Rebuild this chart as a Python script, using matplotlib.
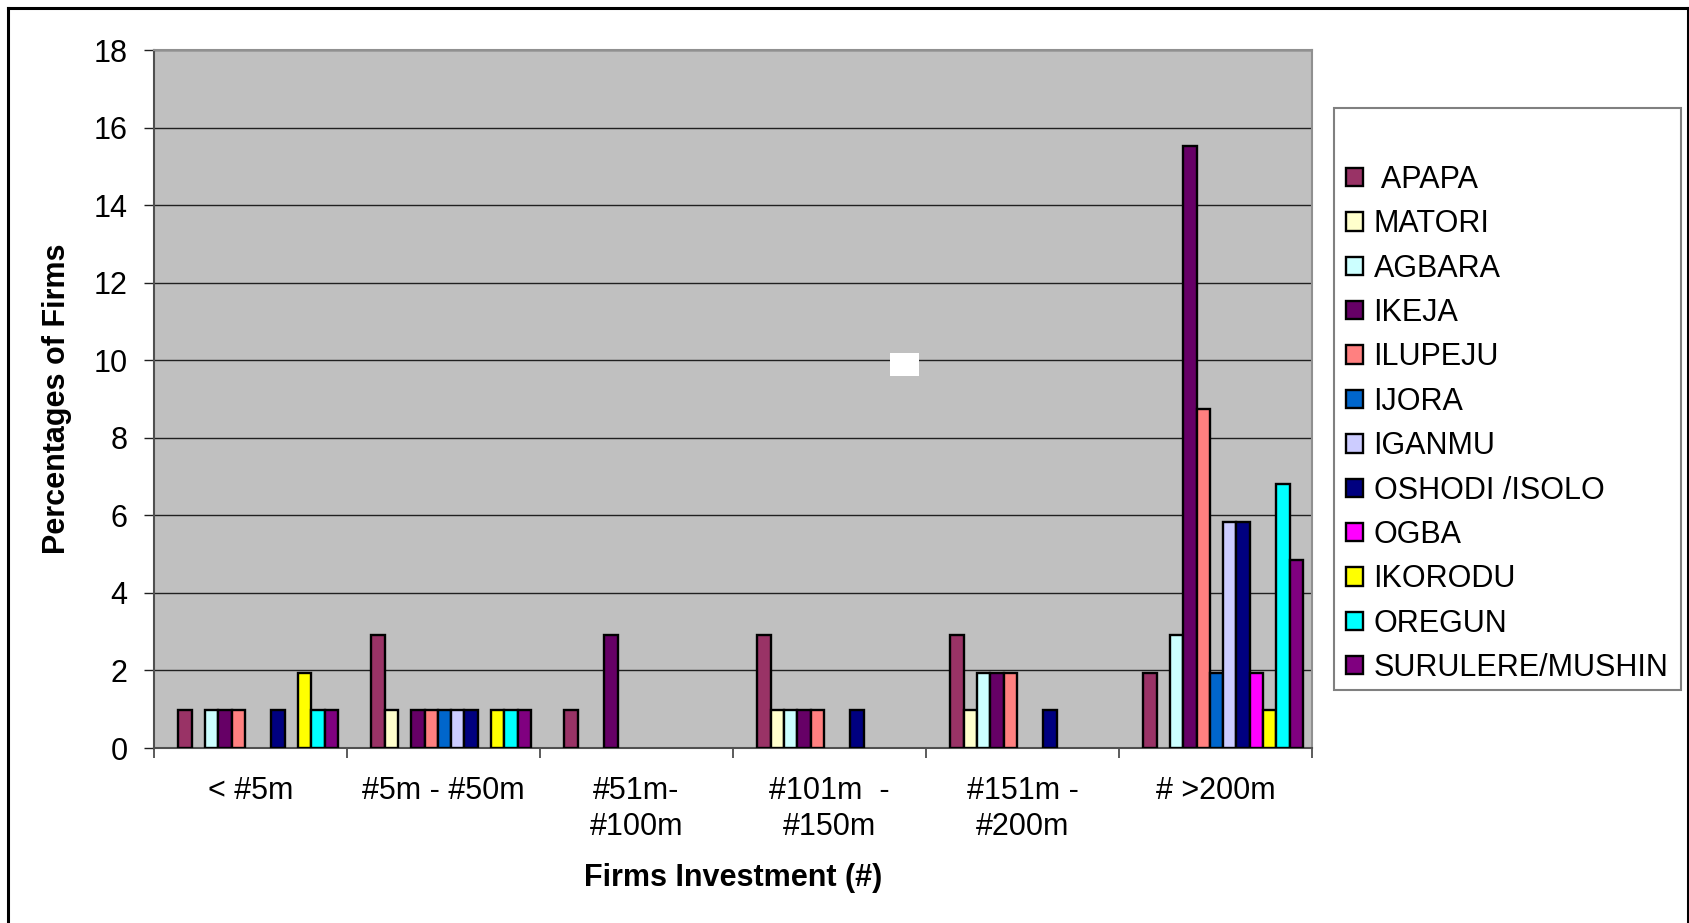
import matplotlib
matplotlib.use("Agg")
import matplotlib.pyplot as plt
from matplotlib.patches import Rectangle
from matplotlib.lines import Line2D
import numpy as np

plt.rcParams['font.family'] = ['Liberation Sans', 'DejaVu Sans']

categories = ["< #5m", "#5m - #50m", "#51m-\n#100m", "#101m  -\n#150m",
              "#151m -\n#200m", "# >200m"]
series_names = [" APAPA", "MATORI", "AGBARA", "IKEJA", "ILUPEJU", "IJORA",
                "IGANMU", "OSHODI /ISOLO", "OGBA", "IKORODU", "OREGUN",
                "SURULERE/MUSHIN"]
colors = ["#993366", "#FFFFCC", "#CCFFFF", "#660066", "#FF8080", "#0066CC",
          "#CCCCFF", "#000080", "#FF00FF", "#FFFF00", "#00FFFF", "#800080"]

apapa    = [0.97, 2.91, 0.97, 2.91, 2.91, 1.94]
matori   = [0.00, 0.97, 0.00, 0.97, 0.97, 0.00]
agbara   = [0.97, 0.00, 0.00, 0.97, 1.94, 2.91]
ikeja    = [0.97, 0.97, 2.91, 0.97, 1.94, 15.53]
ilupeju  = [0.97, 0.97, 0.00, 0.97, 1.94, 8.74]
ijora    = [0.00, 0.97, 0.00, 0.00, 0.00, 1.94]
iganmu   = [0.00, 0.97, 0.00, 0.00, 0.00, 5.83]
oshodi   = [0.97, 0.97, 0.00, 0.97, 0.97, 5.83]
ogba     = [0.00, 0.00, 0.00, 0.00, 0.00, 1.94]
ikorodu  = [1.94, 0.97, 0.00, 0.00, 0.00, 0.97]
oregun   = [0.97, 0.97, 0.00, 0.00, 0.00, 6.80]
surulere = [0.97, 0.97, 0.00, 0.00, 0.00, 4.85]

series = [apapa, matori, agbara, ikeja, ilupeju, ijora, iganmu, oshodi,
          ogba, ikorodu, oregun, surulere]

W, H = 1690, 923
fig = plt.figure(figsize=(W / 100, H / 100), dpi=100)
fig.patch.set_facecolor("white")

ax = fig.add_axes([154 / W, 1 - 748 / H, (1312 - 154) / W, (748 - 50.3) / H])
ax.set_facecolor("#C0C0C0")

x = np.arange(len(categories))
bw = 0.0689
start = 0.126
for j, (vals, c, name) in enumerate(zip(series, colors, series_names)):
    v = np.array(vals, dtype=float)
    v[v == 0] = np.nan  # empty categories draw nothing
    ax.bar(x + start + j * bw, v, width=bw, align="edge", color=c,
           edgecolor="black", linewidth=1.7, label=name, zorder=3)

ax.set_xlim(0, len(categories))
ax.set_ylim(0, 18)
ax.set_yticks(np.arange(0, 19, 2))
ax.yaxis.grid(True, color="#202020", linewidth=1.0, zorder=1)
ax.set_axisbelow(True)

ax.set_xticks(np.arange(len(categories) + 1))
ax.set_xticklabels([])
ax.set_xticks(x + 0.5, minor=True)
ax.set_xticklabels(categories, minor=True, fontsize=22, linespacing=1.25)
ax.tick_params(axis="x", which="minor", length=0, pad=20)
ax.tick_params(axis="x", which="major", length=7, color="#404040", width=1.2)
ax.tick_params(axis="y", length=7, color="#202020", width=1.0, labelsize=22, pad=12)

for s in ["left", "bottom"]:
    ax.spines[s].set_color("#505050")
    ax.spines[s].set_linewidth(1.5)
for s in ["top", "right"]:
    ax.spines[s].set_color("#909090")
    ax.spines[s].set_linewidth(1.5)

fig.text(733 / W, 1 - 878 / H, "Firms Investment (#)", fontsize=22,
         fontweight="bold", ha="center", va="center")
fig.text(57 / W, 1 - 399 / H, "Percentages of Firms", fontsize=22,
         fontweight="bold", ha="center", va="center", rotation=90)

# legend frame (drawn beneath the legend)
frame = Rectangle((1334 / W, 1 - 690 / H), (1681 - 1334) / W,
                  (690 - 108) / H, transform=fig.transFigure,
                  facecolor="white", edgecolor="#808080",
                  linewidth=1.5, zorder=1)
fig.add_artist(frame)
handles, labels = ax.get_legend_handles_labels()
leg = fig.legend(handles, labels, loc="upper left",
                 bbox_to_anchor=(1346 / W, 1 - 165 / H),
                 bbox_transform=fig.transFigure, frameon=False,
                 fontsize=22, handlelength=0.55, handleheight=0.55,
                 handletextpad=0.35, labelspacing=0.47, borderaxespad=0,
                 borderpad=0)
leg.set_zorder(5)

# small white mark inside plot
fig.add_artist(Rectangle((890 / W, 1 - 375.7 / H), 29 / W, 23 / H,
                         transform=fig.transFigure, facecolor="white",
                         edgecolor="none", zorder=10))

# outer frame
for xs, ys in [([8 / W, 8 / W], [-0.01, 1 - 7.5 / H]),
               ([8 / W, 1688 / W], [1 - 7.5 / H, 1 - 7.5 / H]),
               ([1688 / W, 1688 / W], [1 - 7.5 / H, -0.01])]:
    fig.add_artist(Line2D(xs, ys, transform=fig.transFigure, color="black",
                          linewidth=2.2))

fig.savefig("out.png", dpi=100)
